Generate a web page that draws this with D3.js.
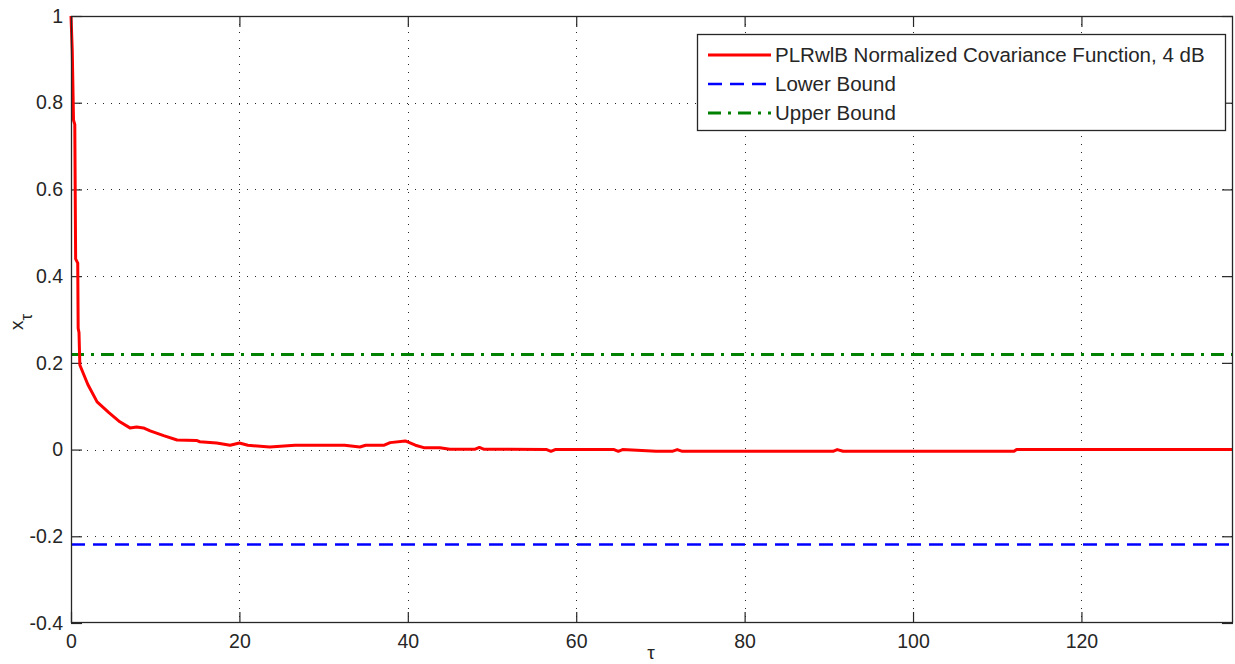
<!DOCTYPE html>
<html>
<head>
<meta charset="utf-8">
<script src="https://cdn.jsdelivr.net/npm/d3@7"></script>
<style>
  html, body { margin: 0; padding: 0; background: #fff; }
  svg { display: block; }
  text { font-family: "Liberation Sans", Arial, sans-serif; fill: #262626; }
</style>
</head>
<body>
<svg id="chart" width="1235" height="664"></svg>
<script>
// ---- data ----
const tau = [0, 0.15, 0.3, 0.45, 0.55, 0.8, 0.85, 0.95, 1.05, 2, 3.1, 4.5, 5.8, 7, 7.8, 8.6, 9.4, 11, 12.6, 14.9, 15.3, 17.3, 18.9, 20, 21, 23.6, 26.6, 30, 32.5, 34.3, 35, 37.2, 37.9, 39.7, 40.9, 42, 43.8, 45, 48, 48.5, 49, 56.5, 57, 57.5, 64.5, 65, 65.5, 69.5, 71.4, 72, 72.6, 74, 74.7, 86.6, 90.5, 91, 91.7, 112, 112.3, 138];
const cov = [1, 0.92, 0.76, 0.75, 0.44, 0.43, 0.28, 0.27, 0.195, 0.15, 0.11, 0.085, 0.064, 0.05, 0.052, 0.05, 0.043, 0.032, 0.022, 0.021, 0.018, 0.015, 0.01, 0.015, 0.01, 0.006, 0.01, 0.01, 0.01, 0.006, 0.01, 0.01, 0.016, 0.02, 0.01, 0.004, 0.004, 0.001, 0.001, 0.005, 0.001, 0, -0.004, 0, 0, -0.004, 0, -0.004, -0.004, 0, -0.004, -0.004, -0.004, -0.004, -0.004, 0, -0.004, -0.004, 0, 0];
const lowerBound = -0.219;
const upperBound = 0.219;
const xTicks = [0, 20, 40, 60, 80, 100, 120];
const yTicks = [-0.4, -0.2, 0, 0.2, 0.4, 0.6, 0.8, 1];
const xTickLabels = ["0", "20", "40", "60", "80", "100", "120"];
const yTickLabels = ["-0.4", "-0.2", "0", "0.2", "0.4", "0.6", "0.8", "1"];
const xDomain = [0, 138];
const yDomain = [-0.4, 1];
const legendLabels = ["PLRwlB Normalized Covariance Function, 4 dB", "Lower Bound", "Upper Bound"];

// ---- layout ----
const L = 71, T = 16, R = 1233, B = 623;
const svg = d3.select("#chart");
const x = d3.scaleLinear().domain(xDomain).range([L, R]);
const y = d3.scaleLinear().domain(yDomain).range([B, T]);

// white plot background
svg.append("rect").attr("x", L).attr("y", T).attr("width", R - L).attr("height", B - T).attr("fill", "#fff");

// grid
const grid = svg.append("g").attr("stroke", "#262626").attr("stroke-width", 1).attr("stroke-dasharray", "1,7");
grid.selectAll(".gx").data(xTicks.filter(d => d > xDomain[0] && d < xDomain[1])).join("line")
  .attr("x1", d => Math.round(x(d)) + 0.5).attr("x2", d => Math.round(x(d)) + 0.5)
  .attr("y1", T).attr("y2", B);
grid.selectAll(".gy").data(yTicks.filter(d => d > yDomain[0] && d < yDomain[1])).join("line")
  .attr("y1", d => Math.round(y(d)) + 0.5).attr("y2", d => Math.round(y(d)) + 0.5)
  .attr("x1", L).attr("x2", R);

// axes (ticks inward, box)
const tl = 11;
const axB = svg.append("g").attr("transform", `translate(0,${B})`)
  .call(d3.axisBottom(x).tickValues(xTicks).tickSize(-tl).tickPadding(11)
    .tickFormat((d, i) => xTickLabels[i]));
const axT = svg.append("g").attr("transform", `translate(0,${T})`)
  .call(d3.axisTop(x).tickValues(xTicks).tickSize(-tl).tickFormat(""));
const axL = svg.append("g").attr("transform", `translate(${L},0)`)
  .call(d3.axisLeft(y).tickValues(yTicks).tickSize(-tl).tickPadding(8)
    .tickFormat((d, i) => yTickLabels[i]));
const axR = svg.append("g").attr("transform", `translate(${R},0)`)
  .call(d3.axisRight(y).tickValues(yTicks).tickSize(-tl).tickFormat(""));
[axB, axT, axL, axR].forEach(a => {
  a.select(".domain").remove();
  a.selectAll("line").attr("stroke", "#262626").attr("stroke-width", 1.2);
  a.selectAll("text").attr("font-size", 19.5).attr("fill", "#262626")
    .attr("font-family", '"Liberation Sans", Arial, sans-serif');
});
axB.selectAll("text").attr("dy", "0.71em");

// data lines
const line = d3.line().x(d => x(d[0])).y(d => y(d[1]));
const pts = tau.map((t, i) => [t, cov[i]]);
svg.append("path").datum([[xDomain[0], lowerBound], [xDomain[1], lowerBound]])
  .attr("d", line).attr("fill", "none").attr("stroke", "#0000ff").attr("stroke-width", 2.6)
  .attr("stroke-dasharray", "14,8");
svg.append("path").datum([[xDomain[0], upperBound], [xDomain[1], upperBound]])
  .attr("d", line).attr("fill", "none").attr("stroke", "#008000").attr("stroke-width", 3)
  .attr("stroke-dasharray", "13,7,3,7");
svg.append("path").datum(pts)
  .attr("d", line).attr("fill", "none").attr("stroke", "#ff0000").attr("stroke-width", 3)
  .attr("stroke-linejoin", "round");

// box
svg.append("rect").attr("x", L + 0.5).attr("y", T + 0.5).attr("width", R - L - 1).attr("height", B - T - 1)
  .attr("fill", "none").attr("stroke", "#262626").attr("stroke-width", 1.3);

// axis labels
svg.append("text").attr("x", 651).attr("y", 659).attr("text-anchor", "middle")
  .attr("font-size", 19).text("τ");
const yl = svg.append("text").attr("transform", "translate(23,322) rotate(-90)")
  .attr("text-anchor", "middle").attr("font-size", 19);
yl.append("tspan").text("x");
yl.append("tspan").attr("dy", 9).attr("font-size", 17).text("τ");

// legend
const lg = svg.append("g");
lg.append("rect").attr("x", 697.5).attr("y", 34.5).attr("width", 528).attr("height", 96)
  .attr("fill", "#fff").attr("stroke", "#262626").attr("stroke-width", 1.3);
const styles = [
  { c: "#ff0000", w: 3, da: null },
  { c: "#0000ff", w: 2.6, da: "14,8" },
  { c: "#008000", w: 3, da: "13,7,3,7" }
];
legendLabels.forEach((lab, i) => {
  const cy = 55 + i * 29;
  lg.append("line").attr("x1", 708).attr("x2", 771).attr("y1", cy).attr("y2", cy)
    .attr("stroke", styles[i].c).attr("stroke-width", styles[i].w)
    .attr("stroke-dasharray", styles[i].da);
  lg.append("text").attr("x", 775).attr("y", cy).attr("dy", "0.35em")
    .attr("font-size", 20.5).text(lab);
});
</script>
</body>
</html>
